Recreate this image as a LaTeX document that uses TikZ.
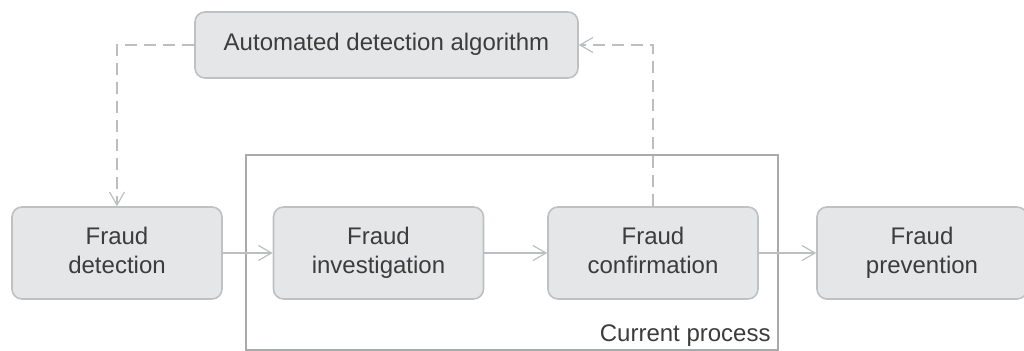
\documentclass[tikz,border=0pt]{standalone}
\usepackage{fontspec}
\setmainfont{Liberation Sans}
\usetikzlibrary{arrows.meta}
\definecolor{boxfill}{HTML}{E5E6E7}
\definecolor{boxline}{HTML}{BFC0C1}
\definecolor{txt}{HTML}{3C3C3C}
\definecolor{conn}{HTML}{BDBEBF}
\definecolor{framec}{HTML}{A9AAAB}
\newcommand{\twol}[2]{\strut #1\\\strut #2}
\tikzset{
  procbox/.style={draw=boxline, fill=boxfill, line width=0.8pt, rounded corners=5pt,
    minimum width=105pt, minimum height=46pt, inner sep=0pt, align=center,
    text=txt, font=\fontsize{12}{14.5}\selectfont},
  flow/.style={draw=conn, line width=0.6pt, -{Straight Barb[length=6.5pt,width=7.5pt]}},
  dflow/.style={flow, dash pattern=on 6pt off 3.5pt},
  framebox/.style={draw=framec, line width=1pt}
}
\begin{document}
\begin{tikzpicture}[x=0.5pt,y=-0.5pt]
\useasboundingbox (0,0) rectangle (1024,351);
\node[framebox, minimum width=266pt, minimum height=97.5pt, inner sep=0pt] (frame) at (512,252.5) {};
\node[anchor=base east, text=txt, font=\fontsize{12}{14.5}\selectfont, inner sep=0pt] (lbl) at (771,342) {Current process};
\node[procbox, minimum width=191.5pt, minimum height=33pt] (algo) at (386.5,45) {\strut Automated detection algorithm};
\node[procbox] (det) at (117,253) {\twol{Fraud}{detection}};
\node[procbox] (inv) at (378.5,253) {\twol{Fraud}{investigation}};
\node[procbox] (conf) at (653,253) {\twol{Fraud}{confirmation}};
\node[procbox] (prev) at (922,253) {\twol{Fraud}{prevention}};
\draw[flow] (det) -- (inv);
\draw[flow] (inv) -- (conf);
\draw[flow] (conf) -- (prev);
\draw[dflow] (algo.west) -| (det.north);
\draw[dflow] (conf.north) |- (algo.east);
\end{tikzpicture}
\end{document}
